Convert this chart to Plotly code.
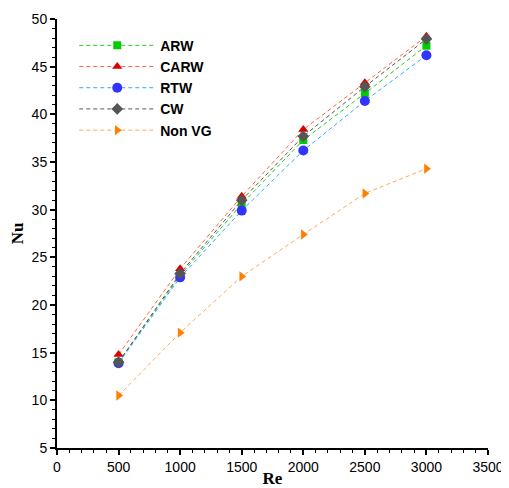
import plotly.graph_objects as go

re_vals = [500, 1000, 1500, 2000, 2500, 3000]
arw = [14.0, 23.1, 30.6, 37.3, 42.2, 47.2]
carw = [14.8, 23.8, 31.4, 38.4, 43.3, 48.2]
rtw = [13.9, 22.9, 29.9, 36.2, 41.4, 46.2]
cw = [14.0, 23.3, 31.0, 37.7, 42.9, 47.9]
nonvg = [10.5, 17.1, 23.0, 27.4, 31.7, 34.3]

series = [
    ("ARW", arw, "#22cc22", "#00cc00", "square", 8),
    ("CARW", carw, "#ff6633", "#dd0000", "triangle-up", 9),
    ("RTW", rtw, "#33aaff", "#3333ff", "circle", 10),
    ("CW", cw, "#555555", "#555555", "diamond", 9),
    ("Non VG", nonvg, "#ffaa55", "#ff8000", "triangle-right", 9),
]

fig = go.Figure()
for name, ys, lc, mc, sym, sz in series:
    fig.add_trace(go.Scatter(
        x=re_vals, y=ys, name="<b>" + name + "</b>", mode="lines+markers",
        line=dict(color=lc, width=1, dash="4px,3px"),
        marker=dict(color=mc, symbol=sym, size=sz, line=dict(width=0)),
    ))

axis_common = dict(
    showgrid=False, zeroline=False, showline=True, linecolor="black", linewidth=2,
    ticks="outside", ticklen=5, tickwidth=2, tickcolor="black", automargin=False,
    tickfont=dict(family="Arial, Liberation Sans", size=14, color="black"),
)
fig.update_xaxes(
    range=[0, 3500], dtick=500, tick0=0,
    minor=dict(ticks="outside", dtick=100, ticklen=3, tickcolor="black", tickwidth=1),
    title=dict(text="<b>Re</b>", font=dict(family="Liberation Serif, Times New Roman", size=17, color="black"), standoff=2),
    **axis_common,
)
fig.update_yaxes(
    range=[5, 50], dtick=5, tick0=0,
    minor=dict(ticks="outside", dtick=1, ticklen=3, tickcolor="black", tickwidth=1),
    title=dict(text="<b>Nu</b>", font=dict(family="Liberation Serif, Times New Roman", size=17, color="black"), standoff=8),
    **axis_common,
)
fig.update_layout(
    width=501, height=480,
    margin=dict(l=49, r=21, t=11, b=40),
    paper_bgcolor="white", plot_bgcolor="white",
    legend=dict(x=0.04, y=0.975, xanchor="left", yanchor="top",
                font=dict(family="Arial, Liberation Sans", size=14, color="black"),
                bgcolor="rgba(0,0,0,0)", itemwidth=76, tracegroupgap=0),
    showlegend=True,
)
fig.write_html("out.html")
